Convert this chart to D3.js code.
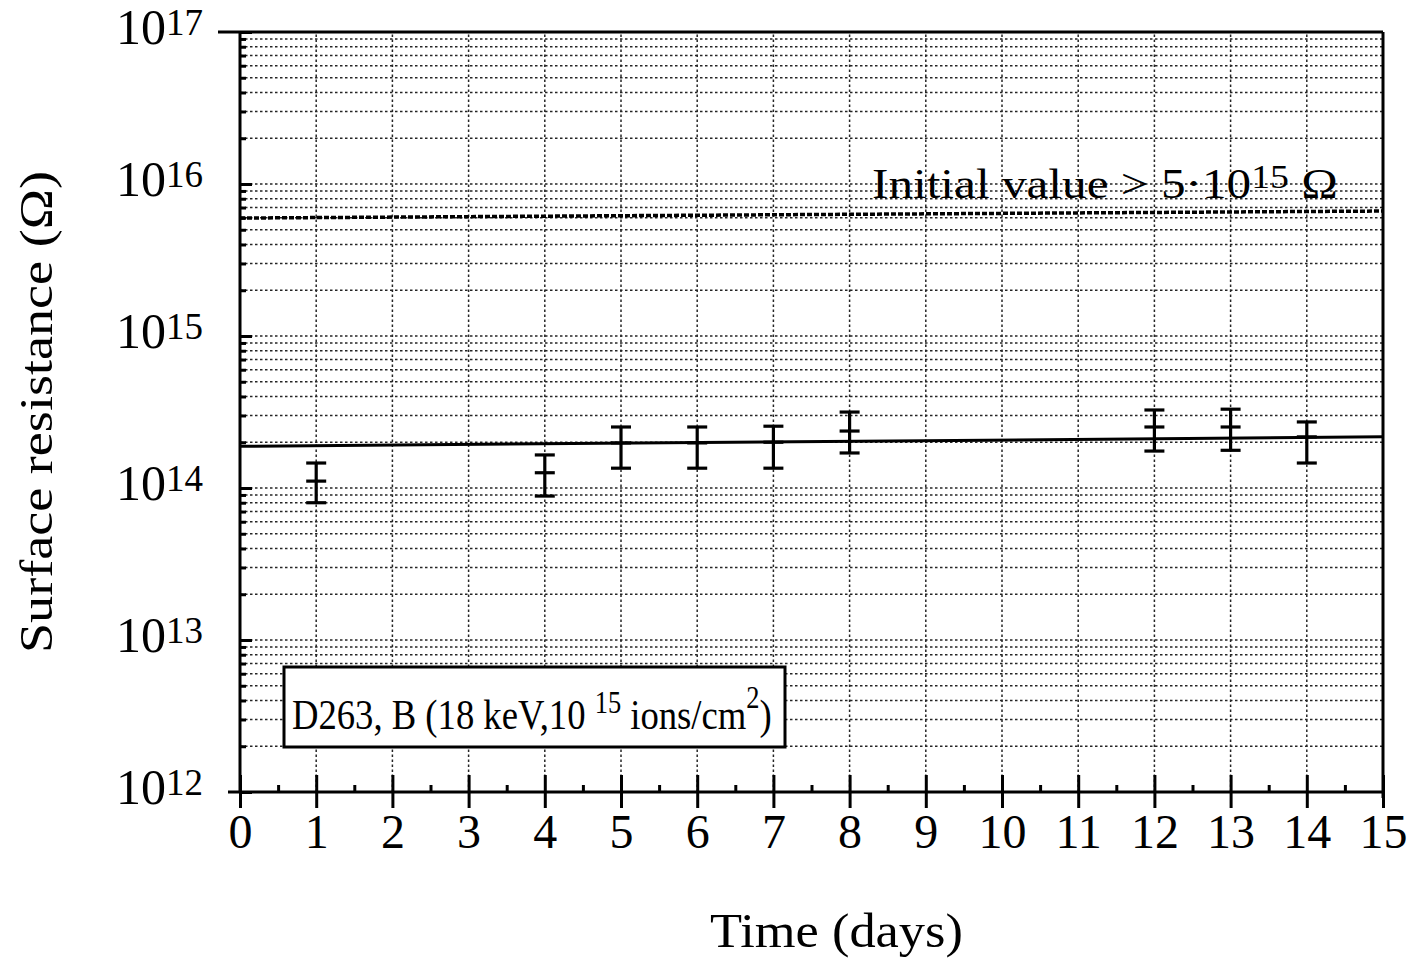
<!DOCTYPE html>
<html><head><meta charset="utf-8">
<script src="https://cdn.jsdelivr.net/npm/d3@7"></script>
<style>html,body{margin:0;padding:0;background:#fff;}svg{display:block;}</style>
</head><body>
<svg id="chart" width="1423" height="964"></svg>
<script>
// ---- data ----
const days = [1, 4, 5, 6, 7, 8, 12, 13, 14];
const resistance = [1.11e14, 1.26e14, 1.98e14, 1.98e14, 2.0e14, 2.37e14, 2.52e14, 2.52e14, 2.17e14];
const upperErr = [1.46e14, 1.65e14, 2.52e14, 2.52e14, 2.55e14, 3.16e14, 3.26e14, 3.3e14, 2.72e14];
const lowerErr = [0.80e14, 0.885e14, 1.35e14, 1.35e14, 1.35e14, 1.70e14, 1.75e14, 1.77e14, 1.46e14];
const fitDays = [0, 15];
const fitValues = [1.88e14, 2.17e14];
const initialDays = [0, 15];
const initialValues = [5.97e15, 6.64e15];
const xTicks = [0,1,2,3,4,5,6,7,8,9,10,11,12,13,14,15];
const xMinorTicks = [0.5,1.5,2.5,3.5,4.5,5.5,6.5,7.5,8.5,9.5,10.5,11.5,12.5,13.5,14.5];
const yExponents = [12, 13, 14, 15, 16, 17];

const FONT = "'Liberation Serif', 'Times New Roman', serif";
const svg = d3.select("#chart");
const x = d3.scaleLinear().domain([0, 15]).range([240, 1383]);
const y = d3.scaleLog().domain([1e12, 1e17]).range([792, 32]);

const yMajor = yExponents.map(e => Math.pow(10, e));
const yMinor = [];
yExponents.slice(0, -1).forEach(e => { for (let k = 2; k <= 9; k++) yMinor.push(k * Math.pow(10, e)); });

// ---- grid ----
const grid = svg.append("g").attr("stroke", "#000").attr("stroke-width", 1.5).attr("stroke-dasharray", "2.5,2.5").attr("opacity", 0.85);
grid.selectAll("line.h").data(yMinor.concat(yMajor.slice(1, -1))).join("line")
  .attr("x1", x(0)).attr("x2", x(15)).attr("y1", d => y(d)).attr("y2", d => y(d));
grid.selectAll("line.v").data(xTicks.slice(1, -1)).join("line")
  .attr("y1", y(1e12)).attr("y2", y(1e17)).attr("x1", d => x(d)).attr("x2", d => x(d));

// ---- frame (top, right) ----
svg.append("line").attr("x1", 218).attr("x2", x(15)).attr("y1", y(1e17)).attr("y2", y(1e17)).attr("stroke", "#000").attr("stroke-width", 3);
svg.append("line").attr("x1", x(15)).attr("x2", x(15)).attr("y1", y(1e17)).attr("y2", y(1e12) + 6).attr("stroke", "#000").attr("stroke-width", 3);

// ---- x axis ----
const xAxis = svg.append("g").attr("transform", `translate(0,${y(1e12)})`)
  .call(d3.axisBottom(x).tickValues(xTicks).tickSize(16).tickFormat(d3.format("d")));
xAxis.select(".domain").attr("d", `M228,0H${x(15)}`).attr("stroke-width", 3);
xAxis.selectAll(".tick line").attr("y1", -17).attr("stroke-width", 3);
xAxis.selectAll(".tick text").attr("y", 56).attr("dy", 0).attr("font-family", FONT).attr("font-size", 48).attr("fill", "#000");
const xMinorAxis = svg.append("g").attr("transform", `translate(0,${y(1e12)})`)
  .call(d3.axisBottom(x).tickValues(xMinorTicks).tickSize(-7).tickFormat(""));
xMinorAxis.select(".domain").remove();
xMinorAxis.selectAll(".tick line").attr("stroke-width", 3);

// ---- y axis ----
const yAxis = svg.append("g").attr("transform", `translate(${x(0)},0)`)
  .call(d3.axisLeft(y).tickValues(yMajor).tickSize(18).tickFormat(""));
yAxis.select(".domain").attr("d", `M0,${y(1e17)}V${y(1e12)}`).attr("stroke-width", 3);
yAxis.selectAll(".tick line").attr("x2", 12).attr("stroke-width", 3);
const yMinorAxis = svg.append("g").attr("transform", `translate(${x(0)},0)`)
  .call(d3.axisLeft(y).tickValues(yMinor).tickSize(-6).tickFormat(""));
yMinorAxis.select(".domain").remove();
yMinorAxis.selectAll(".tick line").attr("stroke-width", 3);

// y tick labels 10^n
const yl = svg.append("g").attr("font-family", FONT).attr("fill", "#000");
yExponents.forEach(e => {
  const t = yl.append("text").attr("x", 203).attr("y", y(Math.pow(10, e)) + 12).attr("text-anchor", "end");
  t.append("tspan").attr("font-size", 50).text("10");
  t.append("tspan").attr("font-size", 37).attr("dy", -9).text(String(e));
});

// ---- helper: stretch text horizontally to a width ----
function fitWidth(sel, x0, target) {
  const w = sel.node().getBBox().width;
  const s = target / w;
  sel.attr("transform", `translate(${x0},0) scale(${s},1) translate(${-x0},0)`);
}

// ---- reference lines ----
const line = d3.line().x(d => x(d[0])).y(d => y(d[1]));
svg.append("path").datum(initialDays.map((d, i) => [d, initialValues[i]])).attr("d", line)
  .attr("fill", "none").attr("stroke", "#000").attr("stroke-width", 3.5).attr("stroke-dasharray", "5,2");
svg.append("path").datum(fitDays.map((d, i) => [d, fitValues[i]])).attr("d", line)
  .attr("fill", "none").attr("stroke", "#000").attr("stroke-width", 3);

// ---- error bars ----
const pts = svg.append("g").attr("stroke", "#000").attr("stroke-width", 3.2);
days.forEach((d, i) => {
  const cx = x(d);
  pts.append("line").attr("x1", cx).attr("x2", cx).attr("y1", y(upperErr[i])).attr("y2", y(lowerErr[i]));
  pts.append("line").attr("x1", cx - 10).attr("x2", cx + 10).attr("y1", y(upperErr[i])).attr("y2", y(upperErr[i]));
  pts.append("line").attr("x1", cx - 10).attr("x2", cx + 10).attr("y1", y(lowerErr[i])).attr("y2", y(lowerErr[i]));
  pts.append("line").attr("x1", cx - 10).attr("x2", cx + 10).attr("y1", y(resistance[i])).attr("y2", y(resistance[i]));
});

// ---- annotation: initial value ----
const ann = svg.append("text").attr("x", 872).attr("y", 198).attr("font-family", FONT).attr("fill", "#000");
ann.append("tspan").attr("font-size", 43).text("Initial value > 5\u00B710");
ann.append("tspan").attr("font-size", 33).attr("dy", -10).text("15");
ann.append("tspan").attr("font-size", 43).attr("dy", 10).text(" \u03A9");
fitWidth(ann, 872, 466);

// ---- sample box ----
svg.append("rect").attr("x", 284).attr("y", 667).attr("width", 501).attr("height", 80)
  .attr("fill", "#fff").attr("stroke", "#000").attr("stroke-width", 3);
const box = svg.append("text").attr("x", 292).attr("y", 729).attr("font-family", FONT).attr("fill", "#000");
box.append("tspan").attr("font-size", 43).text("D263, B (18 keV,10 ");
box.append("tspan").attr("font-size", 31).attr("dy", -16).text("15");
box.append("tspan").attr("font-size", 43).attr("dy", 16).text(" ions/cm");
box.append("tspan").attr("font-size", 31).attr("dy", -21).text("2");
box.append("tspan").attr("font-size", 43).attr("dy", 21).text(")");
fitWidth(box, 292, 480);

// ---- axis titles ----
const xt = svg.append("text").attr("x", 710).attr("y", 947).attr("font-family", FONT).attr("font-size", 48).attr("fill", "#000").text("Time (days)");
fitWidth(xt, 710, 253);
const yt = svg.append("text").attr("x", 0).attr("y", 0).attr("font-family", FONT).attr("font-size", 46).attr("fill", "#000").text("Surface resistance (\u03A9)");
const ytw = yt.node().getBBox().width;
yt.attr("transform", `translate(52,653) rotate(-90) scale(${482 / ytw},1)`);
</script>
</body></html>
